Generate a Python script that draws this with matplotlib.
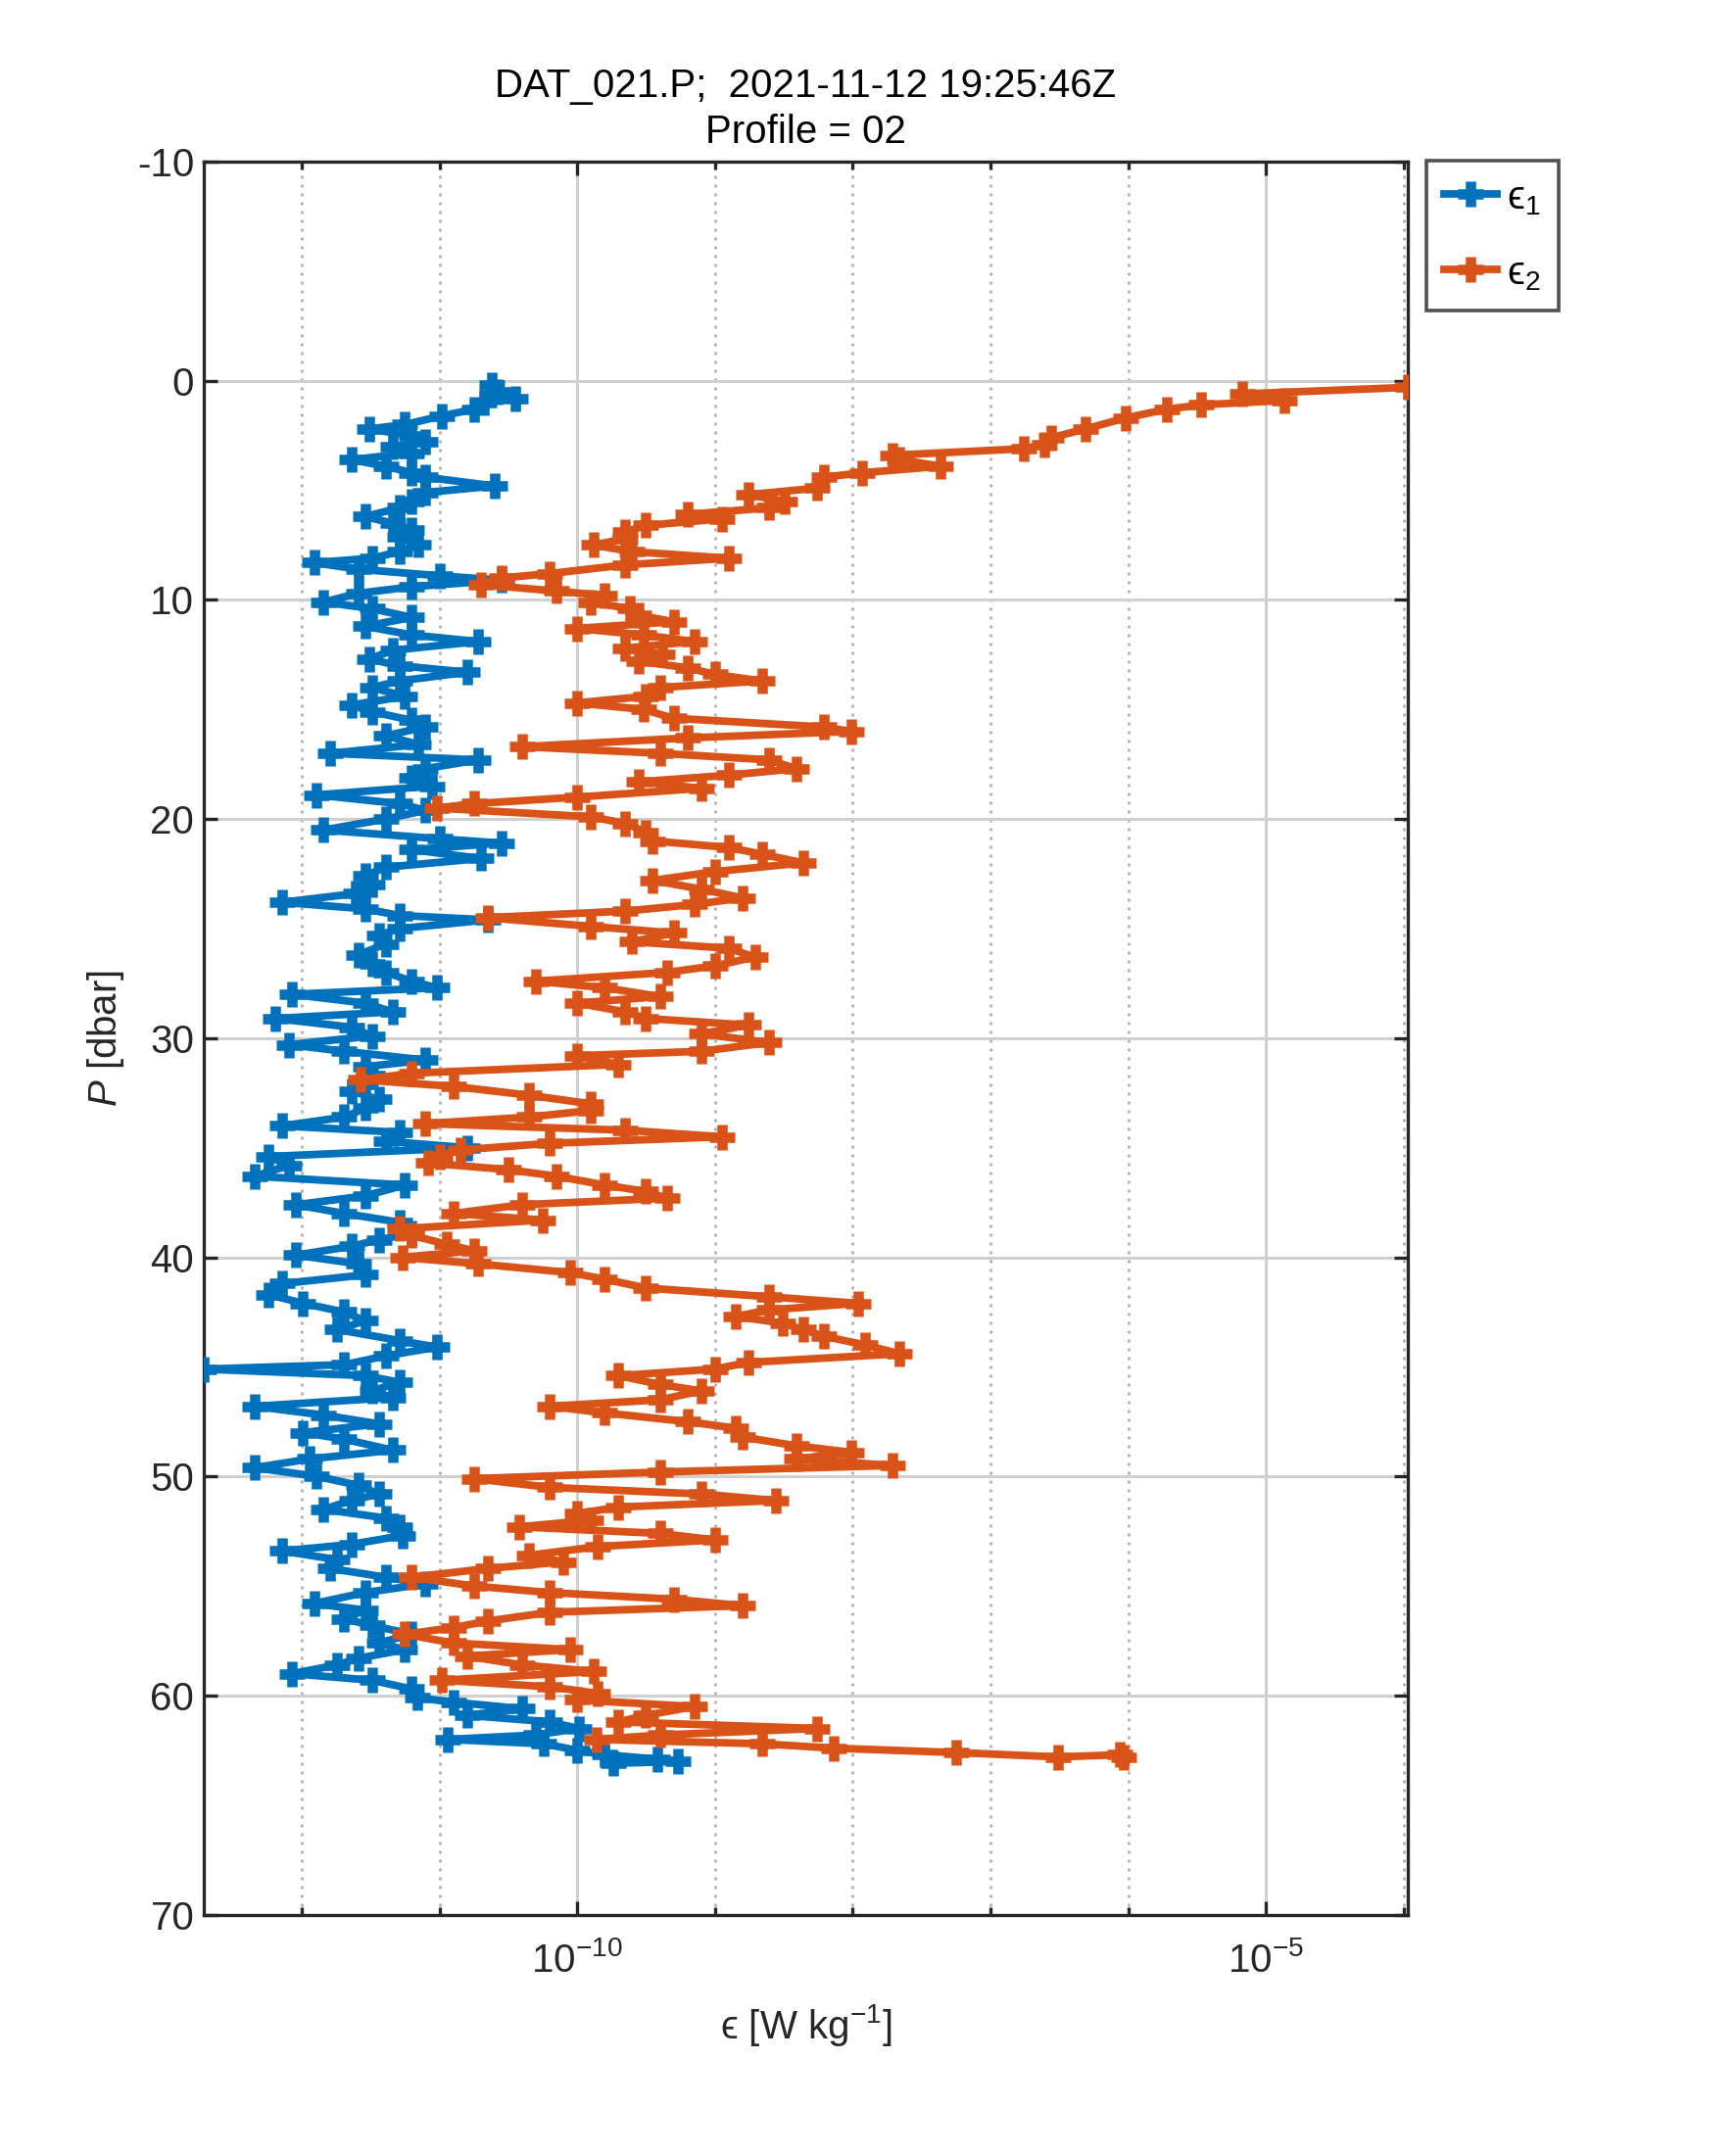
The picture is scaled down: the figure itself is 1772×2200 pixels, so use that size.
import numpy as np
import matplotlib
matplotlib.use("Agg")
import matplotlib.pyplot as plt
from matplotlib.ticker import FixedLocator, FixedFormatter, NullFormatter

plt.rcParams['font.family'] = ['Liberation Sans', 'DejaVu Sans']
plt.rcParams['mathtext.fontset'] = 'custom'
plt.rcParams['mathtext.rm'] = 'Liberation Sans'
plt.rcParams['mathtext.it'] = 'Liberation Sans:italic'
plt.rcParams['axes.unicode_minus'] = False

# pressure [dbar] and log10(epsilon)
p1 = [0.2, 0.5, 0.8, 1.0, 1.3, 1.6, 2.0, 2.2, 2.5, 2.8,
      3.0, 3.3, 3.6, 3.9, 4.2, 4.4, 4.8, 5.1, 5.5, 5.8,
      6.2, 6.5, 6.8, 7.1, 7.5, 7.8, 8.1, 8.3, 8.6, 8.9,
      9.1, 9.4, 9.7, 10.1, 10.4, 10.8, 11.2, 11.6, 11.9, 12.3,
      12.7, 13.0, 13.3, 13.7, 14.0, 14.4, 14.8, 15.1, 15.5, 15.8,
      16.2, 16.6, 17.0, 17.3, 17.7, 18.1, 18.5, 18.9, 19.3, 19.6,
      20.0, 20.5, 20.9, 21.1, 21.4, 21.8, 22.2, 22.6, 23.0, 23.4,
      23.8, 24.1, 24.4, 24.6, 25.0, 25.3, 25.7, 26.2, 26.6, 27.0,
      27.4, 27.7, 28.0, 28.4, 28.8, 29.1, 29.5, 29.9, 30.3, 30.6,
      31.0, 31.3, 31.7, 32.1, 32.4, 32.8, 33.2, 33.6, 34.0, 34.3,
      34.7, 35.0, 35.4, 35.8, 36.3, 36.7, 37.2, 37.6, 38.0, 38.4,
      38.9, 39.2, 39.5, 39.9, 40.3, 40.8, 41.2, 41.7, 42.1, 42.5,
      42.9, 43.3, 43.8, 44.1, 44.5, 44.9, 45.1, 45.4, 45.7, 46.1,
      46.4, 46.8, 47.2, 47.6, 48.0, 48.3, 48.8, 49.2, 49.6, 50.0,
      50.4, 50.8, 51.1, 51.5, 51.9, 52.3, 52.7, 53.1, 53.4, 53.8,
      54.2, 54.6, 54.9, 55.3, 55.8, 56.1, 56.5, 56.8, 57.2, 57.6,
      57.9, 58.3, 58.6, 59.0, 59.3, 59.7, 60.1, 60.3, 60.6, 60.9,
      61.2, 61.5, 61.8, 62.0, 62.2, 62.5, 62.7, 62.9, 63.0, 63.1]
log_e1 = [-10.62, -10.58, -10.45, -10.68, -10.75, -10.98, -11.25, -11.51, -11.20, -11.10,
          -11.34, -11.20, -11.64, -11.39, -11.20, -11.10, -10.60, -11.10, -11.20, -11.29,
          -11.54, -11.34, -11.20, -11.29, -11.15, -11.29, -11.49, -11.91, -11.59, -11.00,
          -10.55, -11.20, -11.59, -11.84, -11.49, -11.20, -11.54, -11.20, -10.72, -11.34,
          -11.51, -11.29, -10.80, -11.29, -11.49, -11.25, -11.64, -11.49, -11.20, -11.10,
          -11.39, -11.15, -11.79, -10.72, -11.10, -11.20, -11.05, -11.89, -11.29, -11.10,
          -11.39, -11.84, -11.00, -10.55, -11.20, -10.70, -11.39, -11.54, -11.49, -11.61,
          -12.14, -11.54, -11.29, -10.65, -11.29, -11.44, -11.39, -11.59, -11.49, -11.39,
          -11.20, -11.02, -12.07, -11.54, -11.34, -12.19, -11.64, -11.49, -12.09, -11.69,
          -11.10, -11.54, -11.49, -11.54, -11.64, -11.44, -11.54, -11.69, -12.14, -11.29,
          -11.39, -10.80, -12.24, -12.09, -12.34, -11.25, -11.54, -12.04, -11.69, -11.29,
          -11.20, -11.44, -11.64, -12.04, -11.59, -11.54, -12.14, -12.24, -11.99, -11.69,
          -11.54, -11.74, -11.29, -11.02, -11.39, -11.69, -12.71, -11.54, -11.29, -11.49,
          -11.34, -12.34, -11.84, -11.44, -11.99, -11.69, -11.34, -11.94, -12.34, -11.89,
          -11.59, -11.44, -11.64, -11.84, -11.39, -11.29, -11.27, -11.64, -12.14, -11.74,
          -11.79, -11.39, -11.10, -11.54, -11.91, -11.54, -11.69, -11.49, -11.20, -11.44,
          -11.25, -11.59, -11.74, -12.07, -11.49, -11.20, -11.16, -10.90, -10.40, -10.80,
          -10.20, -9.99, -10.30, -10.94, -10.24, -10.00, -9.80, -9.42, -9.27, -9.74]

p2 = [0.3, 0.6, 0.9, 1.1, 1.3, 1.7, 2.2, 2.6, 2.9, 3.1,
      3.4, 3.6, 3.9, 4.2, 4.4, 4.9, 5.2, 5.5, 5.8, 6.1,
      6.3, 6.6, 6.9, 7.2, 7.5, 7.8, 8.1, 8.4, 8.8, 9.0,
      9.3, 9.6, 9.8, 10.1, 10.4, 10.7, 11.0, 11.3, 11.6, 11.9,
      12.2, 12.5, 12.8, 13.1, 13.4, 13.7, 14.0, 14.4, 14.7, 15.0,
      15.4, 15.8, 16.0, 16.3, 16.7, 17.0, 17.3, 17.7, 18.0, 18.3,
      18.6, 19.0, 19.3, 19.5, 19.9, 20.2, 20.6, 21.0, 21.3, 21.6,
      22.0, 22.4, 22.8, 23.2, 23.6, 23.9, 24.2, 24.5, 24.9, 25.2,
      25.6, 25.9, 26.3, 26.7, 27.0, 27.4, 27.7, 28.1, 28.4, 28.8,
      29.1, 29.4, 29.8, 30.2, 30.6, 30.8, 31.2, 31.6, 31.9, 32.2,
      32.6, 33.0, 33.3, 33.6, 33.9, 34.2, 34.5, 34.8, 35.1, 35.4,
      35.7, 36.0, 36.3, 36.7, 37.0, 37.3, 37.6, 38.0, 38.3, 38.7,
      39.0, 39.4, 39.7, 40.0, 40.3, 40.7, 41.0, 41.4, 41.8, 42.1,
      42.4, 42.7, 43.0, 43.3, 43.6, 44.0, 44.4, 44.8, 45.1, 45.4,
      45.8, 46.1, 46.5, 46.8, 47.1, 47.5, 47.8, 48.2, 48.6, 48.9,
      49.2, 49.5, 49.8, 50.1, 50.5, 50.8, 51.1, 51.4, 51.7, 52.0,
      52.3, 52.6, 52.9, 53.2, 53.6, 53.9, 54.2, 54.6, 55.0, 55.3,
      55.6, 55.9, 56.2, 56.6, 56.9, 57.2, 57.6, 57.9, 58.2, 58.6,
      58.9, 59.3, 59.6, 59.9, 60.2, 60.5, 60.9, 61.2, 61.5, 61.8,
      62.0, 62.2, 62.4, 62.6, 62.8, 62.7, 62.8]
log_e2 = [-3.97, -5.17, -4.87, -5.47, -5.72, -6.02, -6.31, -6.56, -6.61, -6.76,
          -7.71, -7.66, -7.36, -7.93, -8.21, -8.26, -8.76, -8.49, -8.61, -9.20,
          -8.95, -9.50, -9.65, -9.65, -9.88, -9.60, -8.90, -9.65, -10.20, -10.55,
          -10.70, -10.15, -9.80, -9.90, -9.62, -9.55, -9.30, -10.00, -9.52, -9.15,
          -9.65, -9.38, -9.55, -9.20, -9.00, -8.66, -9.40, -9.50, -10.00, -9.52,
          -9.30, -8.21, -8.01, -9.20, -10.40, -9.40, -8.61, -8.41, -8.90, -9.55,
          -9.10, -10.00, -10.75, -11.02, -9.90, -9.65, -9.50, -9.45, -8.90, -8.66,
          -8.36, -9.00, -9.45, -9.10, -8.80, -9.15, -9.65, -10.65, -9.90, -9.30,
          -9.60, -8.90, -8.71, -9.00, -9.35, -10.30, -9.80, -9.40, -10.00, -9.65,
          -9.50, -8.76, -9.10, -8.61, -9.10, -10.00, -9.70, -11.20, -11.57, -10.90,
          -10.35, -9.90, -9.90, -10.35, -11.10, -9.65, -8.95, -10.20, -10.85, -11.00,
          -11.08, -10.50, -10.15, -9.80, -9.50, -9.35, -10.40, -10.90, -10.25, -11.29,
          -11.20, -10.95, -10.75, -11.27, -10.72, -10.05, -9.80, -9.50, -8.61, -7.96,
          -8.61, -8.85, -8.51, -8.36, -8.21, -7.91, -7.66, -8.76, -9.00, -9.70,
          -9.40, -9.10, -9.40, -10.20, -9.80, -9.20, -8.85, -8.80, -8.41, -8.01,
          -8.41, -7.71, -9.40, -10.75, -10.20, -9.10, -8.56, -9.70, -10.00, -9.90,
          -10.42, -9.40, -9.00, -9.85, -10.35, -10.10, -10.65, -11.20, -10.75, -10.20,
          -9.30, -8.80, -10.20, -10.65, -10.90, -11.25, -10.90, -10.05, -10.80, -10.40,
          -9.88, -10.98, -10.20, -9.85, -10.00, -9.15, -9.50, -9.70, -8.26, -9.40,
          -9.86, -8.66, -8.14, -7.25, -6.51, -6.06, -6.03]

title_lines = ["DAT_021.P;  2021-11-12 19:25:46Z", "Profile = 02"]

e1 = 10.0 ** np.array(log_e1)
e2 = 10.0 ** np.array(log_e2)

fig = plt.figure(figsize=(8.86, 11), dpi=200)
ax = fig.add_axes([0.1174, 0.1115, 0.6936, 0.8135])

blue = '#0072BD'
orange = '#D95319'
ax.plot(e1, p1, '-', color=blue, lw=2.8, marker='+', ms=9.5, mew=3.8, label='ϵ$_1$', zorder=3)
ax.plot(e2, p2, '-', color=orange, lw=2.8, marker='+', ms=9.5, mew=3.8, label='ϵ$_2$', zorder=3)

ax.set_xscale('log')
xmin = min(e1.min(), e2.min())
xmax = max(e1.max(), e2.max())
ax.set_xlim(xmin, xmax)
ax.set_ylim(70, -10)
ax.set_yticks(np.arange(-10, 71, 10))

ax.xaxis.set_major_locator(FixedLocator([1e-10, 1e-5]))
ax.xaxis.set_major_formatter(FixedFormatter(['$10^{-10}$', '$10^{-5}$']))
ax.xaxis.set_minor_locator(FixedLocator([10.0 ** k for k in range(-13, -3)]))
ax.xaxis.set_minor_formatter(NullFormatter())

ax.grid(True, which='major', color='#d0d0d0', lw=1.1, ls='-', zorder=0)
ax.grid(True, which='minor', axis='x', color='#a8a8a8', lw=0.9, ls=(0, (1.2, 2.4)), zorder=0)
ax.set_axisbelow(True)

ax.tick_params(which='both', direction='in', top=True, right=True, labelsize=14.5,
               colors='#262626', width=1.2)
ax.tick_params(which='major', length=5)
ax.tick_params(which='minor', length=3)
ax.tick_params(axis='x', pad=10)
for s in ax.spines.values():
    s.set_color('#262626')
    s.set_linewidth(1.2)

ax.set_title('\n'.join(title_lines), fontsize=14.5, color='black', pad=7, linespacing=1.3)
ax.set_ylabel('$\\it{P}$ [dbar]', fontsize=14.5, color='#262626', labelpad=4)
ax.set_xlabel('ϵ [W kg$^{-1}$]', fontsize=14.5, color='#262626', labelpad=8)

leg = ax.legend(loc='upper left', bbox_to_anchor=(0.8215, 0.9255), bbox_transform=fig.transFigure,
                fontsize=14.5, frameon=True, fancybox=False, handlelength=1.35,
                handletextpad=0.25, borderpad=0.45, labelspacing=0.9, borderaxespad=0,
                handleheight=1.0)
leg.get_frame().set_edgecolor('#262626')
leg.get_frame().set_linewidth(1.3)

fig.savefig('out.png', dpi=200, facecolor='white')
